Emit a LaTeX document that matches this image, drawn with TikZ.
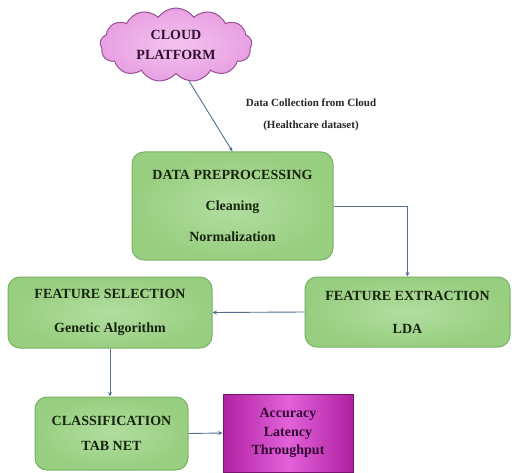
\documentclass[tikz,border=0pt]{standalone}
\usepackage{fontspec}
\setmainfont{Liberation Serif}
\usetikzlibrary{shapes.symbols,arrows.meta}
\definecolor{greenfill}{RGB}{152,206,128}
\definecolor{greenlight}{RGB}{178,222,160}
\definecolor{greenedge}{RGB}{120,178,100}
\definecolor{greentext}{RGB}{22,36,14}
\definecolor{cloudfill}{RGB}{232,160,226}
\definecolor{cloudlight}{RGB}{244,196,240}
\definecolor{cloudedge}{RGB}{150,80,150}
\definecolor{cloudtext}{RGB}{48,16,48}
\definecolor{magdark}{RGB}{176,32,160}
\definecolor{maglight}{RGB}{226,98,218}
\definecolor{magedge}{RGB}{120,20,110}
\definecolor{magtext}{RGB}{50,8,50}
\definecolor{linecol}{RGB}{84,112,140}
\tikzset{
  gbox/.style={draw=greenedge, line width=1pt, rounded corners=12pt,
    inner color=greenlight, outer color=greenfill,
    text=greentext, align=center, font=\fontsize{14}{17}\selectfont\bfseries,
    inner sep=0pt},
  mbox/.style={draw=magedge, line width=0.8pt,
    left color=magdark, right color=magdark, middle color=maglight,
    text=magtext, align=center, font=\fontsize{14}{17}\selectfont\bfseries,
    inner sep=0pt},
  cloudbox/.style={cloud, cloud puffs=13, cloud puff arc=110, aspect=2.1,
    draw=cloudedge, line width=1pt, inner color=cloudlight, outer color=cloudfill,
    text=cloudtext, align=center, font=\fontsize{14}{17}\selectfont\bfseries,
    inner sep=0pt},
  lbl/.style={align=center, font=\fontsize{11}{13}\selectfont\bfseries, text=black!85},
  arr/.style={draw=linecol, line width=0.9pt, -{Stealth[length=4.5pt,width=4pt]}}
}
\begin{document}
\begin{tikzpicture}[x=1pt,y=-1pt]
\useasboundingbox (0,0) rectangle (519,473);
\fill[white] (0,0) rectangle (519,473);

\node[cloudbox, minimum width=152pt, minimum height=74pt] (cloud) at (176,45)
  {CLOUD\\[3pt]PLATFORM};

\node[lbl] (lab) at (311,115) {Data Collection from Cloud\\[9pt](Healthcare dataset)};

\node[gbox, minimum width=201pt, minimum height=108pt] (pre) at (232.5,206)
  {DATA PREPROCESSING\\[14pt]Cleaning\\[14pt]Normalization};

\node[gbox, minimum width=205pt, minimum height=70pt] (fe) at (407.5,312)
  {FEATURE EXTRACTION\\[16pt]LDA};

\node[gbox, minimum width=204pt, minimum height=71pt] (fs) at (110,312.5)
  {FEATURE SELECTION\\[17pt]Genetic Algorithm};

\node[gbox, minimum width=153pt, minimum height=73pt] (cls) at (111.5,433.5)
  {CLASSIFICATION\\[8pt]TAB NET};

\node[mbox, minimum width=130pt, minimum height=78pt] (met) at (288,433)
  {Accuracy\\[2pt]Latency\\[1pt]Throughput};

\draw[arr] (cloud.290) -- (pre.north);
\draw[arr] (pre.east) -| (fe.north);
\draw[arr] (fe.west) -- (fs.east);
\draw[arr] (fs.south) -- (fs.south |- cls.north);
\draw[arr] (cls.east) -- (met.west);
\end{tikzpicture}
\end{document}
